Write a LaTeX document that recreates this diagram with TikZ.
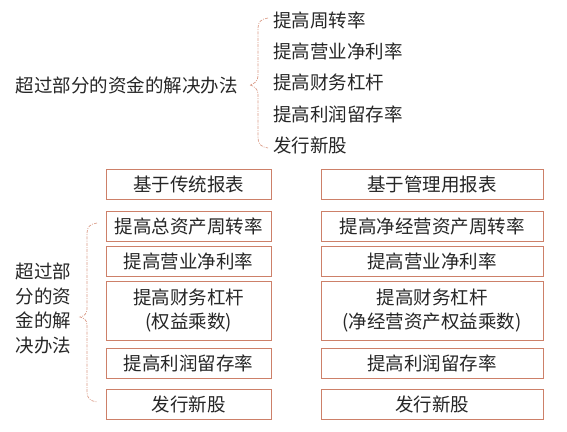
\documentclass[tikz,border=0pt]{standalone}
\usepackage{fontspec}
\setmainfont{Noto Sans CJK SC}
\begin{document}
\begin{tikzpicture}[x=1pt,y=-1pt,
  txt/.style={font=\fontsize{18.5}{24.5}\selectfont, text=black!85, inner sep=0pt},
  box/.style={txt, draw=boxc, line width=0.9pt, fill=white, align=center},
  lbox/.style={box, minimum width=165pt, minimum height=30pt},
  rbox/.style={box, minimum width=222pt, minimum height=30pt},
  bracel/.style={draw=bracec, line width=0.7pt, dash pattern=on 3pt off 1.2pt on 1pt off 1.2pt}]
\definecolor{boxc}{RGB}{205,128,105}
\definecolor{bracec}{RGB}{218,155,135}
\useasboundingbox (0,0) rectangle (567,431);
% top part
\node[txt] (main) at (126.5,85) {超过部分的资金的解决办法};
\node[txt, anchor=west] (t1) at (273,20) {提高周转率};
\node[txt, anchor=west] (t2) at (273,51) {提高营业净利率};
\node[txt, anchor=west] (t3) at (273,82.5) {提高财务杠杆};
\node[txt, anchor=west] (t4) at (273,114) {提高利润留存率};
\node[txt, anchor=west] (t5) at (273,145) {发行新股};
\draw[bracel] (268,18) .. controls (261,19) and (258,22) .. (258,28) -- (258,76)
  .. controls (258,81) and (254,84) .. (250,85)
  .. controls (254,86) and (258,89) .. (258,94) -- (258,138)
  .. controls (258,144) and (261,147) .. (268,148);
% left column
\node[lbox] (l0) at (188.5,184) {基于传统报表};
\node[lbox] (l1) at (188.5,226) {提高总资产周转率};
\node[lbox] (l2) at (188.5,261) {提高营业净利率};
\node[lbox, minimum height=59pt] (l3) at (188.5,310.5) {提高财务杠杆\\(权益乘数)};
\node[lbox] (l4) at (188.5,363) {提高利润留存率};
\node[lbox] (l5) at (188.5,404) {发行新股};
% right column
\node[rbox] (r0) at (432,184) {基于管理用报表};
\node[rbox] (r1) at (432,226) {提高净经营资产周转率};
\node[rbox] (r2) at (432,261) {提高营业净利率};
\node[rbox, minimum height=59pt] (r3) at (432,310.5) {提高财务杠杆\\(净经营资产权益乘数)};
\node[rbox] (r4) at (432,363) {提高利润留存率};
\node[rbox] (r5) at (432,404) {发行新股};
% bottom left label and brace
\node[txt, align=center] (bl) at (43.5,308.5) {超过部\\分的资\\金的解\\决办法};
\draw[bracel] (97,223) .. controls (90,224) and (87,227) .. (87,233) -- (87,309)
  .. controls (87,314) and (84,316) .. (80,317)
  .. controls (84,318) and (87,320) .. (87,325) -- (87,392)
  .. controls (87,398) and (90,401) .. (97,402);
\end{tikzpicture}
\end{document}
